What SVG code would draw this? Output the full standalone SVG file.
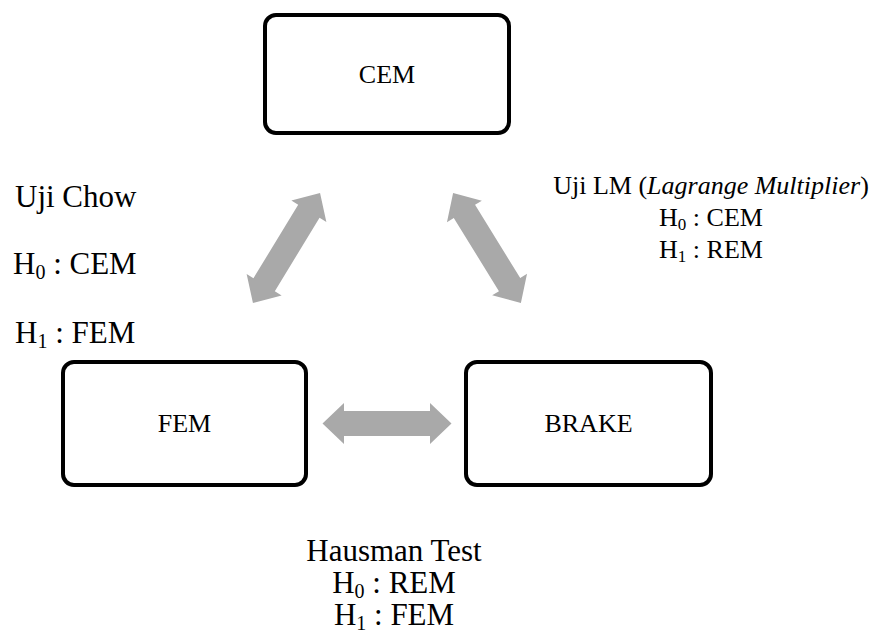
<svg xmlns="http://www.w3.org/2000/svg" xmlns:xlink="http://www.w3.org/1999/xlink" width="878" height="634" viewBox="0 0 878 634">
<style>
.box{fill:#fff;stroke:#000;stroke-width:4}
.lbl{font-family:"Liberation Serif","Times New Roman",serif;font-size:26px;fill:#000;text-anchor:middle}
.t{font-family:"Liberation Serif","Times New Roman",serif;fill:#000}
.big{font-size:31px}
.mid{font-size:26px}
.arr{fill:#a9a9a9}
</style>
<defs>
<polygon id="dbl" points="-64.5,0 -43,-20.5 -43,-12.5 43,-12.5 43,-20.5 64.5,0 43,20.5 43,12.5 -43,12.5 -43,20.5"/>
</defs>
<rect width="878" height="634" fill="#fff"/>
<g id="connectors" class="arr">
<use xlink:href="#dbl" transform="translate(286.5,248) rotate(-58.66)"/>
<use xlink:href="#dbl" transform="translate(487,248) rotate(58.3)"/>
<use xlink:href="#dbl" transform="translate(387,423.5)"/>
</g>
<g id="cem">
<rect class="box" x="265" y="15" width="244" height="118" rx="11"/>
<text class="lbl" x="387" y="83">CEM</text>
</g>
<g id="fem">
<rect class="box" x="63" y="362" width="243" height="123" rx="11"/>
<text class="lbl" x="184.5" y="432">FEM</text>
</g>
<g id="brake">
<rect class="box" x="466" y="362" width="245" height="123" rx="11"/>
<text class="lbl" x="588.5" y="432">BRAKE</text>
</g>
<g id="chow" class="t big">
<text x="15" y="207">Uji Chow</text>
<text x="13" y="274">H<tspan font-size="20" dy="5">0</tspan><tspan dy="-5"> : CEM</tspan></text>
<text x="15" y="343">H<tspan font-size="20" dy="5">1</tspan><tspan dy="-5"> : FEM</tspan></text>
</g>
<g id="lm" class="t mid" text-anchor="middle">
<text x="711" y="194">Uji LM (<tspan font-style="italic">Lagrange Multiplier</tspan>)</text>
<text x="711" y="226">H<tspan font-size="17" dy="4">0</tspan><tspan dy="-4"> : CEM</tspan></text>
<text x="711" y="258">H<tspan font-size="17" dy="4">1</tspan><tspan dy="-4"> : REM</tspan></text>
</g>
<g id="hausman" class="t big" text-anchor="middle">
<text x="394" y="561">Hausman Test</text>
<text x="394" y="593">H<tspan font-size="20" dy="5">0</tspan><tspan dy="-5"> : REM</tspan></text>
<text x="394" y="625">H<tspan font-size="20" dy="5">1</tspan><tspan dy="-5"> : FEM</tspan></text>
</g>
</svg>
